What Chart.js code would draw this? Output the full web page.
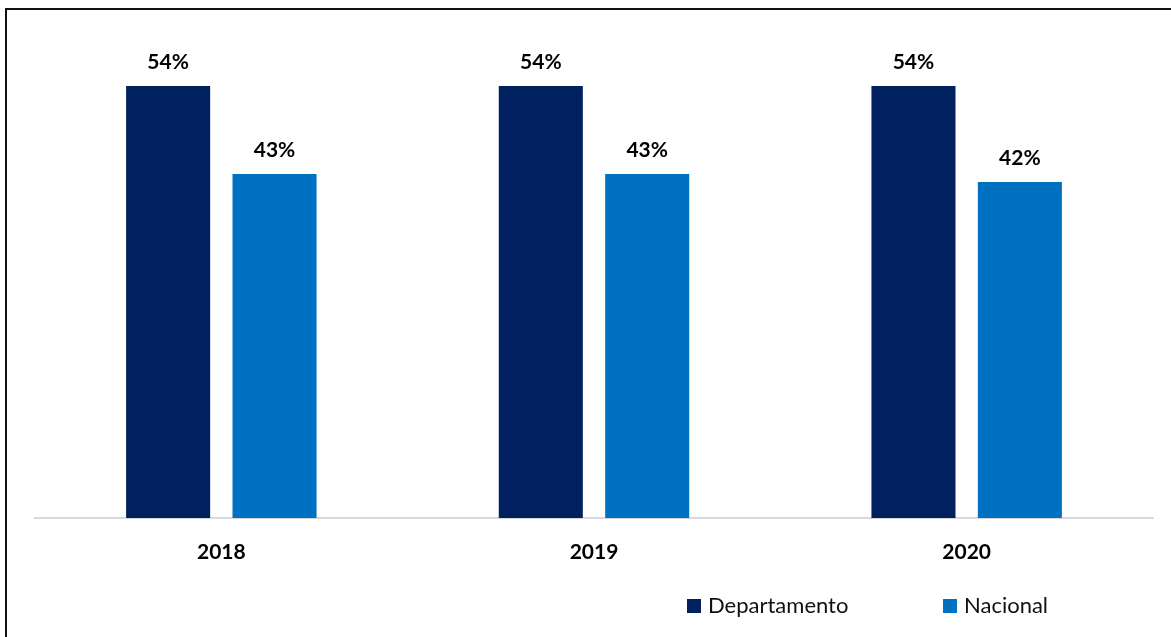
<!DOCTYPE html>
<html lang="es">
<head>
<meta charset="utf-8">
<title>Departamento vs Nacional</title>
<script src="https://cdn.jsdelivr.net/npm/chart.js@4/dist/chart.umd.min.js"></script>
<style>
    html, body { margin: 0; padding: 0; background: #fff; overflow: hidden; }
    #marco {
        position: absolute; left: 5px; top: 8px;
        width: 2000px; height: 2000px;
        border-left: 2px solid #111; border-top: 2px solid #111;
    }
    #grafico { position: absolute; left: 0; top: 0; }
</style>
</head>
<body>
<div id="marco"></div>
<canvas id="grafico" width="1171" height="637"></canvas>
<script>
const anios         = ['2018', '2019', '2020'];
const departamento  = [54, 54, 54];
const nacional      = [43, 43, 42];
const nombresSeries = ['Departamento', 'Nacional'];
const coloresSeries = ['#002060', '#0070C0'];

const fuente = 'Lato, "Open Sans", sans-serif';

// etiquetas de porcentaje encima de cada barra
const etiquetasBarras = {
    id: 'etiquetasBarras',
    afterDatasetsDraw(chart) {
        const ctx = chart.ctx;
        ctx.save();
        ctx.font = 'bold 21px ' + fuente;
        ctx.fillStyle = '#000';
        ctx.textAlign = 'center';
        ctx.textBaseline = 'middle';
        chart.data.datasets.forEach((ds, i) => {
            chart.getDatasetMeta(i).data.forEach((barra, j) => {
                ctx.fillText(ds.data[j] + '%', barra.x, barra.y - 24);
            });
        });
        ctx.restore();
    }
};

// leyenda abajo a la derecha
const leyenda = {
    id: 'leyenda',
    afterDraw(chart) {
        const ctx = chart.ctx;
        const area = chart.chartArea;
        const y = area.bottom + 88;
        const inicios = [area.left + 652, area.left + 908];
        ctx.save();
        ctx.font = '22px ' + fuente;
        ctx.textBaseline = 'middle';
        ctx.textAlign = 'left';
        chart.data.datasets.forEach((ds, i) => {
            const x = inicios[i];
            ctx.fillStyle = ds.backgroundColor;
            ctx.fillRect(x, y - 7, 14, 14);
            ctx.fillStyle = '#111';
            ctx.fillText(ds.label, x + 21, y);
        });
        ctx.restore();
    }
};

new Chart(document.getElementById('grafico').getContext('2d'), {
    type: 'bar',
    data: {
        labels: anios,
        datasets: [
            { label: nombresSeries[0], data: departamento, backgroundColor: coloresSeries[0] },
            { label: nombresSeries[1], data: nacional,     backgroundColor: coloresSeries[1] }
        ]
    },
    options: {
        responsive: false,
        animation: false,
        categoryPercentage: 0.571,
        barPercentage: 0.79,
        layout: { padding: { left: 35, right: 18, top: 38, bottom: 0 } },
        plugins: {
            legend: { display: false },
            tooltip: { enabled: false }
        },
        scales: {
            y: { display: false, min: 0, max: 60 },
            x: {
                afterFit: s => { s.height = 119; },
                grid: { display: false, drawTicks: false },
                border: { color: '#d9d9d9', width: 2 },
                ticks: { color: '#000', padding: 22, font: { family: fuente, size: 21, weight: 'bold' } }
            }
        }
    },
    plugins: [etiquetasBarras, leyenda]
});
</script>
</body>
</html>
